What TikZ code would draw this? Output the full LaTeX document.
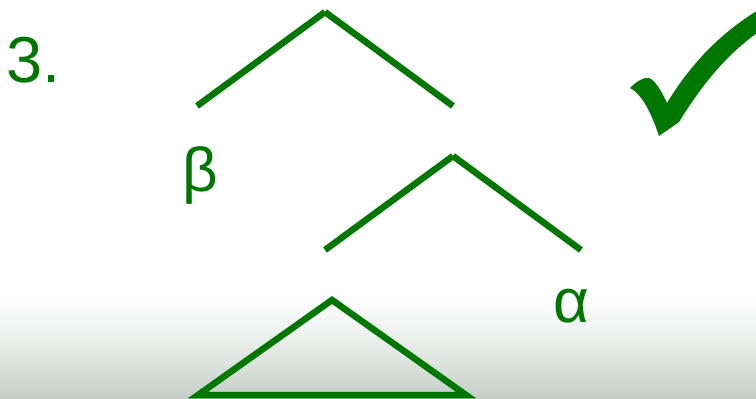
\documentclass[tikz,border=0pt]{standalone}
\usepackage{fontspec}
\setmainfont{Liberation Sans}
\usetikzlibrary{positioning}
\definecolor{Leaf}{HTML}{007700}
\definecolor{Mist}{HTML}{C2CDC4}
\tikzset{
  branch/.style={draw=Leaf,line width=6.5pt},
  lab/.style={font=\fontsize{62}{62}\selectfont,text=Leaf,inner sep=0pt,anchor=base},
  num/.style={lab,font=\fontsize{65}{65}\selectfont,anchor=base west}
}
\begin{document}
\begin{tikzpicture}[x=1pt,y=-1pt]
  \useasboundingbox (0,0) rectangle (756,399);
  % faded floor
  \foreach \i in {0,...,59} {
    \pgfmathsetmacro\p{100*(\i/59)^1.6}
    \fill[Mist!\p!white] (0,280+2*\i) rectangle (756,282.6+2*\i);
  }
  \node[num] (n) at (6,82) {3.};
  % upper branch
  \coordinate (t1) at (325,12); \coordinate (l1) at (197,106); \coordinate (r1) at (453,106);
  \draw[branch] (t1)--(l1); \draw[branch] (t1)--(r1);
  \node[lab] (b) at (200,191) {β};
  % lower branch
  \coordinate (t2) at (453,156); \coordinate (l2) at (325,250); \coordinate (r2) at (581,250);
  \draw[branch] (t2)--(l2); \draw[branch] (t2)--(r2);
  \node[lab] (a) at (571,322) {α};
  % subtree
  \coordinate (t3) at (332,300); \coordinate (l3) at (198,395); \coordinate (r3) at (466,395);
  \draw[branch] (t3)--(l3)--(r3)--cycle;
  % check mark
  \fill[Leaf] (630,88) .. controls (637,81) and (644,77) .. (649,78)
    .. controls (655,80) and (662,92) .. (667,103)
    .. controls (690,65) and (720,33) .. (760,9)
    -- (760,31) .. controls (725,55) and (700,88) .. (679,122)
    -- (659,136) .. controls (652,115) and (643,95) .. (630,88) -- cycle;
\end{tikzpicture}
\end{document}
